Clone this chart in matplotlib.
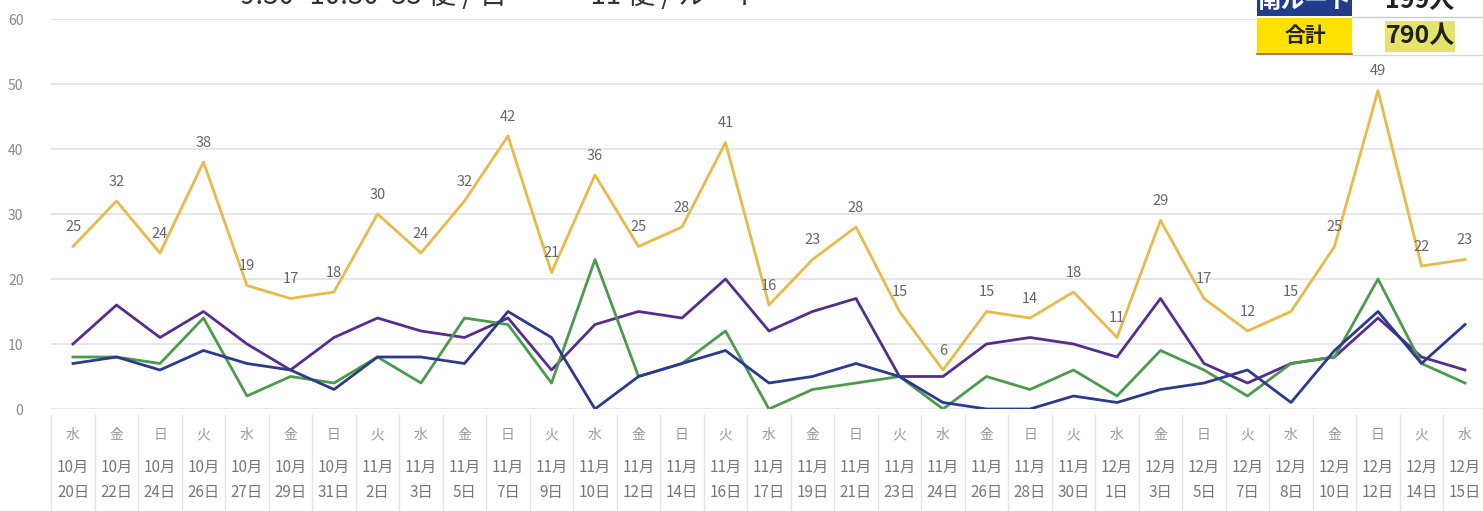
import matplotlib
matplotlib.use("Agg")
import matplotlib.pyplot as plt
from matplotlib.patches import Rectangle
import matplotlib.transforms as mtransforms

plt.rcParams["font.family"] = ["Noto Sans CJK JP", "DejaVu Sans"]

# daily riders, oct 20 - dec 15
weekdays = ["水", "金", "日", "火", "水", "金", "日", "火", "水", "金", "日", "火", "水", "金", "日", "火",
            "水", "金", "日", "火", "水", "金", "日", "火", "水", "金", "日", "火", "水", "金", "日", "火", "水"]
months = ["10月"] * 7 + ["11月"] * 17 + ["12月"] * 9
days = ["20日", "22日", "24日", "26日", "27日", "29日", "31日", "2日", "3日", "5日", "7日", "9日", "10日",
        "12日", "14日", "16日", "17日", "19日", "21日", "23日", "24日", "26日", "28日", "30日", "1日", "3日",
        "5日", "7日", "8日", "10日", "12日", "14日", "15日"]

total = [25, 32, 24, 38, 19, 17, 18, 30, 24, 32, 42, 21, 36, 25, 28, 41, 16, 23, 28, 15, 6, 15, 14, 18,
         11, 29, 17, 12, 15, 25, 49, 22, 23]
route_purple = [10, 16, 11, 15, 10, 6, 11, 14, 12, 11, 14, 6, 13, 15, 14, 20, 12, 15, 17, 5, 5, 10, 11, 10,
                8, 17, 7, 4, 7, 8, 14, 8, 6]
route_green = [8, 8, 7, 14, 2, 5, 4, 8, 4, 14, 13, 4, 23, 5, 7, 12, 0, 3, 4, 5, 0, 5, 3, 6,
               2, 9, 6, 2, 7, 8, 20, 7, 4]
route_south = [7, 8, 6, 9, 7, 6, 3, 8, 8, 7, 15, 11, 0, 5, 7, 9, 4, 5, 7, 5, 1, 0, 0, 2,
               1, 3, 4, 6, 1, 9, 15, 7, 13]

YELLOW = "#e9b949"
PURPLE = "#582c8c"
GREEN = "#4c9a4c"
BLUE = "#2b3a8e"
TEXT = "#777777"

W, H = 1483, 511
fig = plt.figure(figsize=(W / 100, H / 100), dpi=100)
fig.patch.set_facecolor("white")

# axes placed by pixel: x cells 51..1487, y 0 at 409, 60 at 19
ax = fig.add_axes([51.25 / W, (H - 409) / H, (1486.75 - 51.25) / W, 390 / H])
ax.set_facecolor("white")

x = list(range(len(total)))
ax.plot(x, total, color=YELLOW, lw=2.0, zorder=3)
ax.plot(x, route_purple, color=PURPLE, lw=2.0, zorder=4)
ax.plot(x, route_green, color=GREEN, lw=2.0, zorder=4)
ax.plot(x, route_south, color=BLUE, lw=2.0, zorder=5)

for xi, v in zip(x, total):
    ax.annotate(str(v), (xi, v), xytext=(0, 9), textcoords="offset points",
                ha="center", va="bottom", fontsize=10.5, color="#666666", zorder=6)

ax.set_xlim(-0.5, len(total) - 0.5)
ax.set_ylim(0, 60)
ax.set_yticks(range(0, 61, 10))
ax.tick_params(axis="y", length=0, pad=20, labelsize=10, labelcolor="#888888")
ax.set_xticks([])
ax.yaxis.grid(True, color="#e2e2e2", lw=1.2)
ax.set_axisbelow(True)
for s in ax.spines.values():
    s.set_visible(False)

# category table under the plot
trans = mtransforms.blended_transform_factory(ax.transData, ax.transAxes)
for i in range(len(total) + 1):
    ax.plot([i - 0.5, i - 0.5], [-0.015, -0.27], color="#e4e4e4", lw=1,
            transform=trans, clip_on=False)
for i in x:
    ax.text(i, -0.067, weekdays[i], transform=trans, ha="center", va="center",
            fontsize=10, color="#999999")
    ax.text(i, -0.151, months[i], transform=trans, ha="center", va="center",
            fontsize=11, color=TEXT)
    ax.text(i, -0.215, days[i], transform=trans, ha="center", va="center",
            fontsize=11, color=TEXT)

# cut off title at top (it is cut in the source image too)
fig.text(240 / W, 1 + 4 / H, "9:30~10:30  35 便 / 日　　　11 便 / ルート", ha="left", va="center",
         fontsize=20, color="#333333")

# summary table (top right, cut off)
def px_rect(x0, y0, x1, y1, fc, ec="none", lw=0, z=10):
    fig.patches.append(Rectangle((x0 / W, 1 - y1 / H), (x1 - x0) / W, (y1 - y0) / H,
                                 transform=fig.transFigure, facecolor=fc, edgecolor=ec,
                                 lw=lw, zorder=z))

def px_line(x0, y0, x1, y1, color, lw=1):
    fig.lines.append(plt.Line2D([x0 / W, x1 / W], [1 - y0 / H, 1 - y1 / H], transform=fig.transFigure,
                                color=color, lw=lw, zorder=11))

px_rect(1257, -20, 1483, 54, "white", z=9)
px_rect(1257, -20, 1352, 16, "#1f3d8c")
px_rect(1257, 18, 1352, 53, "#ffe100")
px_rect(1385, 21, 1455, 52, "#e6e36a")
px_line(1352, 17, 1483, 17, "#cccccc")
px_line(1257, 54, 1352, 54, "#b05040", 1.2)
px_line(1352, 55, 1483, 55, "#d8d8d8")
fig.text(1305 / W, 1 - 1 / H, "南ルート", ha="center", va="center", fontsize=17,
         fontweight="bold", color="white", zorder=12)
fig.text(1420 / W, 1 - 1 / H, "199人", ha="center", va="center", fontsize=18,
         fontweight="bold", color="#222222", zorder=12)
fig.text(1305 / W, 1 - 36 / H, "合計", ha="center", va="center", fontsize=15,
         fontweight="bold", color="#222222", zorder=12)
fig.text(1420 / W, 1 - 36 / H, "790人", ha="center", va="center", fontsize=18,
         fontweight="bold", color="#222222", zorder=12)

fig.savefig("out.png", dpi=100, facecolor="white")
